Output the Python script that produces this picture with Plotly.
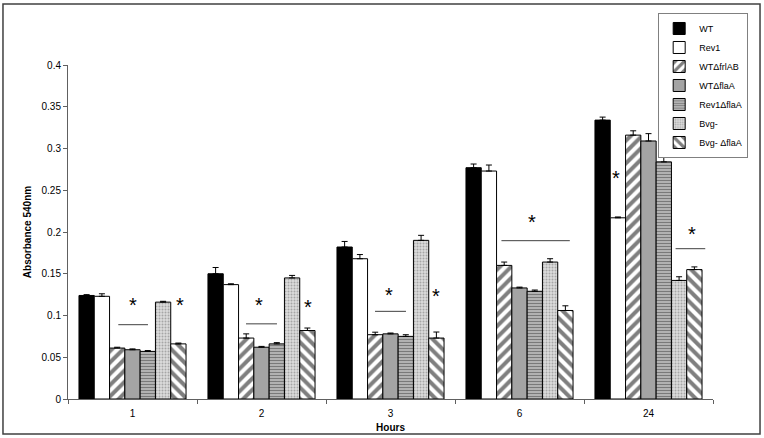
import plotly.graph_objects as go

hours = ["1", "2", "3", "6", "24"]
series_names = ["WT", "Rev1", "WTΔfrlAB", "WTΔflaA", "Rev1ΔflaA", "Bvg-", "Bvg- ΔflaA"]

wt = [0.124, 0.150, 0.182, 0.277, 0.334]
rev1 = [0.123, 0.137, 0.168, 0.273, 0.217]
wt_frlab = [0.061, 0.073, 0.077, 0.160, 0.316]
wt_flaa = [0.059, 0.062, 0.078, 0.133, 0.309]
rev1_flaa = [0.057, 0.066, 0.075, 0.129, 0.284]
bvg = [0.116, 0.145, 0.190, 0.164, 0.142]
bvg_flaa = [0.066, 0.082, 0.073, 0.106, 0.155]

wt_err = [0.001, 0.0075, 0.0067, 0.0044, 0.0036]
rev1_err = [0.003, 0.001, 0.005, 0.0072, 0.001]
wt_frlab_err = [0.001, 0.005, 0.003, 0.004, 0.0052]
wt_flaa_err = [0.001, 0.001, 0.001, 0.001, 0.0088]
rev1_flaa_err = [0.001, 0.0015, 0.002, 0.0015, 0.0096]
bvg_err = [0.001, 0.003, 0.006, 0.004, 0.0044]
bvg_flaa_err = [0.001, 0.003, 0.0072, 0.0056, 0.0032]

values = [wt, rev1, wt_frlab, wt_flaa, rev1_flaa, bvg, bvg_flaa]
errors = [wt_err, rev1_err, wt_frlab_err, wt_flaa_err, rev1_flaa_err, bvg_err, bvg_flaa_err]

y_ticks = [0, 0.05, 0.1, 0.15, 0.2, 0.25, 0.3, 0.35, 0.4]
y_tick_labels = ["0", "0.05", "0.1", "0.15", "0.2", "0.25", "0.3", "0.35", "0.4"]

# significance annotations (category-index x, value y)
sig_lines = [(-0.11, 0.12, 0.089), (0.88, 1.12, 0.090), (1.88, 2.12, 0.105),
             (2.86, 3.39, 0.1896), (4.21, 4.44, 0.180)]
sig_stars = [(0.0, 0.1186), (0.368, 0.1186), (0.98, 0.1186), (1.36, 0.116),
             (1.99, 0.1305), (2.35, 0.129), (3.10, 0.218), (3.75, 0.271), (4.34, 0.2036)]

styles = [
    dict(color="black"),
    dict(color="white"),
    dict(color="white", pattern=dict(shape="/", fgcolor="black", bgcolor="white", size=8, solidity=0.5)),
    dict(color="#a4a4a4"),
    dict(color="#b0b0b0", pattern=dict(shape="-", fgcolor="#3c3c3c", bgcolor="#b8b8b8", size=3, solidity=0.4)),
    dict(color="#d0d0d0", pattern=dict(shape=".", fgcolor="#707070", bgcolor="#dcdcdc", size=3, solidity=0.35)),
    dict(color="white", pattern=dict(shape="\\", fgcolor="black", bgcolor="white", size=8, solidity=0.5)),
]

fig = go.Figure()
for name, vals, errs, st in zip(series_names, values, errors, styles):
    marker = dict(line=dict(color="black", width=1))
    marker.update(st)
    fig.add_trace(go.Bar(
        x=hours, y=vals, name=name, marker=marker,
        error_y=dict(type="data", symmetric=False, array=errs, arrayminus=[0] * len(errs),
                     color="black", thickness=1, width=3),
    ))

for x0, x1, y in sig_lines:
    fig.add_shape(type="line", xref="x", yref="y", x0=x0, x1=x1, y0=y, y1=y,
                  line=dict(color="#404040", width=1))
for x, y in sig_stars:
    fig.add_annotation(x=x, y=y, xref="x", yref="y", text="*", showarrow=False,
                       font=dict(size=20, color="black"), yanchor="middle", yshift=-5)

# outer frame
fig.add_shape(type="rect", xref="paper", yref="paper", x0=-0.1008, x1=1.0729, y0=-0.1048, y1=1.1826,
              line=dict(color="#404040", width=1.5), layer="below")

font = "Liberation Sans, Arial, sans-serif"
fig.update_layout(
    width=764, height=438,
    margin=dict(l=68, r=51, t=65, b=39, autoexpand=False),
    paper_bgcolor="white", plot_bgcolor="white",
    barmode="group", bargap=0.17, bargroupgap=0,
    font=dict(family=font, size=10, color="black"),
    showlegend=True,
    legend=dict(x=0.915, y=1.1557, xanchor="left", yanchor="top",
                bordercolor="#808080", borderwidth=1, bgcolor="white",
                font=dict(size=9), itemwidth=30, tracegroupgap=0),
    xaxis=dict(type="category", showline=True, linecolor="#606060", linewidth=1,
               ticks="outside", tickson="boundaries", ticklen=4, tickcolor="#606060",
               ticklabelstandoff=5,
               showgrid=False, zeroline=False, automargin=False,
               title=dict(text="<b>Hours</b>", font=dict(size=10), standoff=5)),
    yaxis=dict(range=[0, 0.4], tickvals=y_ticks, ticktext=y_tick_labels,
               showline=True, linecolor="#606060", linewidth=1,
               ticks="outside", ticklen=4, tickcolor="#606060",
               showgrid=False, zeroline=False, automargin=False,
               title=dict(text="<b>Absorbance 540nm</b>", font=dict(size=10), standoff=8)),
)

fig.write_html("out.html", config={"displayModeBar": False},
               post_script="document.body.style.margin='0';")
